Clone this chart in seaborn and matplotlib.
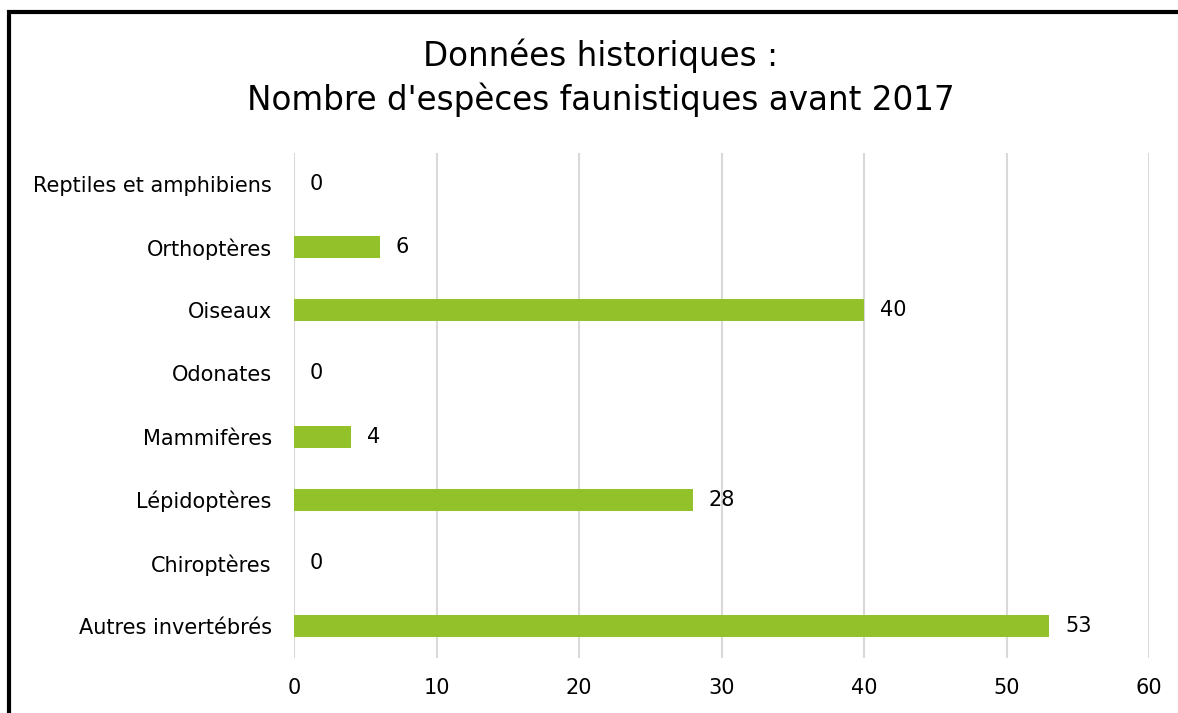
import matplotlib
matplotlib.use("Agg")
import matplotlib.pyplot as plt
import matplotlib.patches as patches
import pandas as pd
import seaborn as sns

categories = ["Reptiles et amphibiens", "Orthoptères", "Oiseaux", "Odonates",
              "Mammifères", "Lépidoptères", "Chiroptères", "Autres invertébrés"]
counts = [0, 6, 40, 0, 4, 28, 0, 53]
x_ticks = [0, 10, 20, 30, 40, 50, 60]

df = pd.DataFrame({"categorie": categories, "nombre": counts})

sns.set_theme(style="white")
plt.rcParams["font.family"] = ["DejaVu Sans"]

fig = plt.figure(figsize=(11.78, 7.13), dpi=100)
ax = fig.add_axes([0.2496, 0.0778, 0.7258, 0.7083])

sns.barplot(data=df, x="nombre", y="categorie", order=categories,
            color="#92C12A", saturation=1, width=0.35, linewidth=0,
            ax=ax, zorder=3)

for i, v in enumerate(counts):
    ax.annotate(str(v), (v, i), xytext=(11.5, 0), textcoords="offset points",
                ha="left", va="center", fontsize=15, color="black")

ax.set_xlim(0, 60)
ax.set_xticks(x_ticks)
ax.set_xticklabels([str(t) for t in x_ticks])
ax.grid(axis="x", color="#d9d9d9", linewidth=1.5, zorder=0)
ax.grid(axis="y", visible=False)
for s in ax.spines.values():
    s.set_visible(False)
ax.tick_params(axis="both", length=0, labelsize=15, colors="black")
ax.tick_params(axis="x", pad=15)
ax.tick_params(axis="y", pad=16)
ax.set_xlabel("")
ax.set_ylabel("")

fig.text(0.510, 0.891, "Données historiques :\nNombre d'espèces faunistiques avant 2017",
         ha="center", va="center", fontsize=23.5, linespacing=1.32, color="black")

fig.patches.append(patches.Rectangle((8.5 / 1178, -0.1), 1.2, 1 - 12 / 713 + 0.1,
                                     transform=fig.transFigure, fill=False,
                                     edgecolor="black", linewidth=3))

fig.savefig("out.png", dpi=100)
